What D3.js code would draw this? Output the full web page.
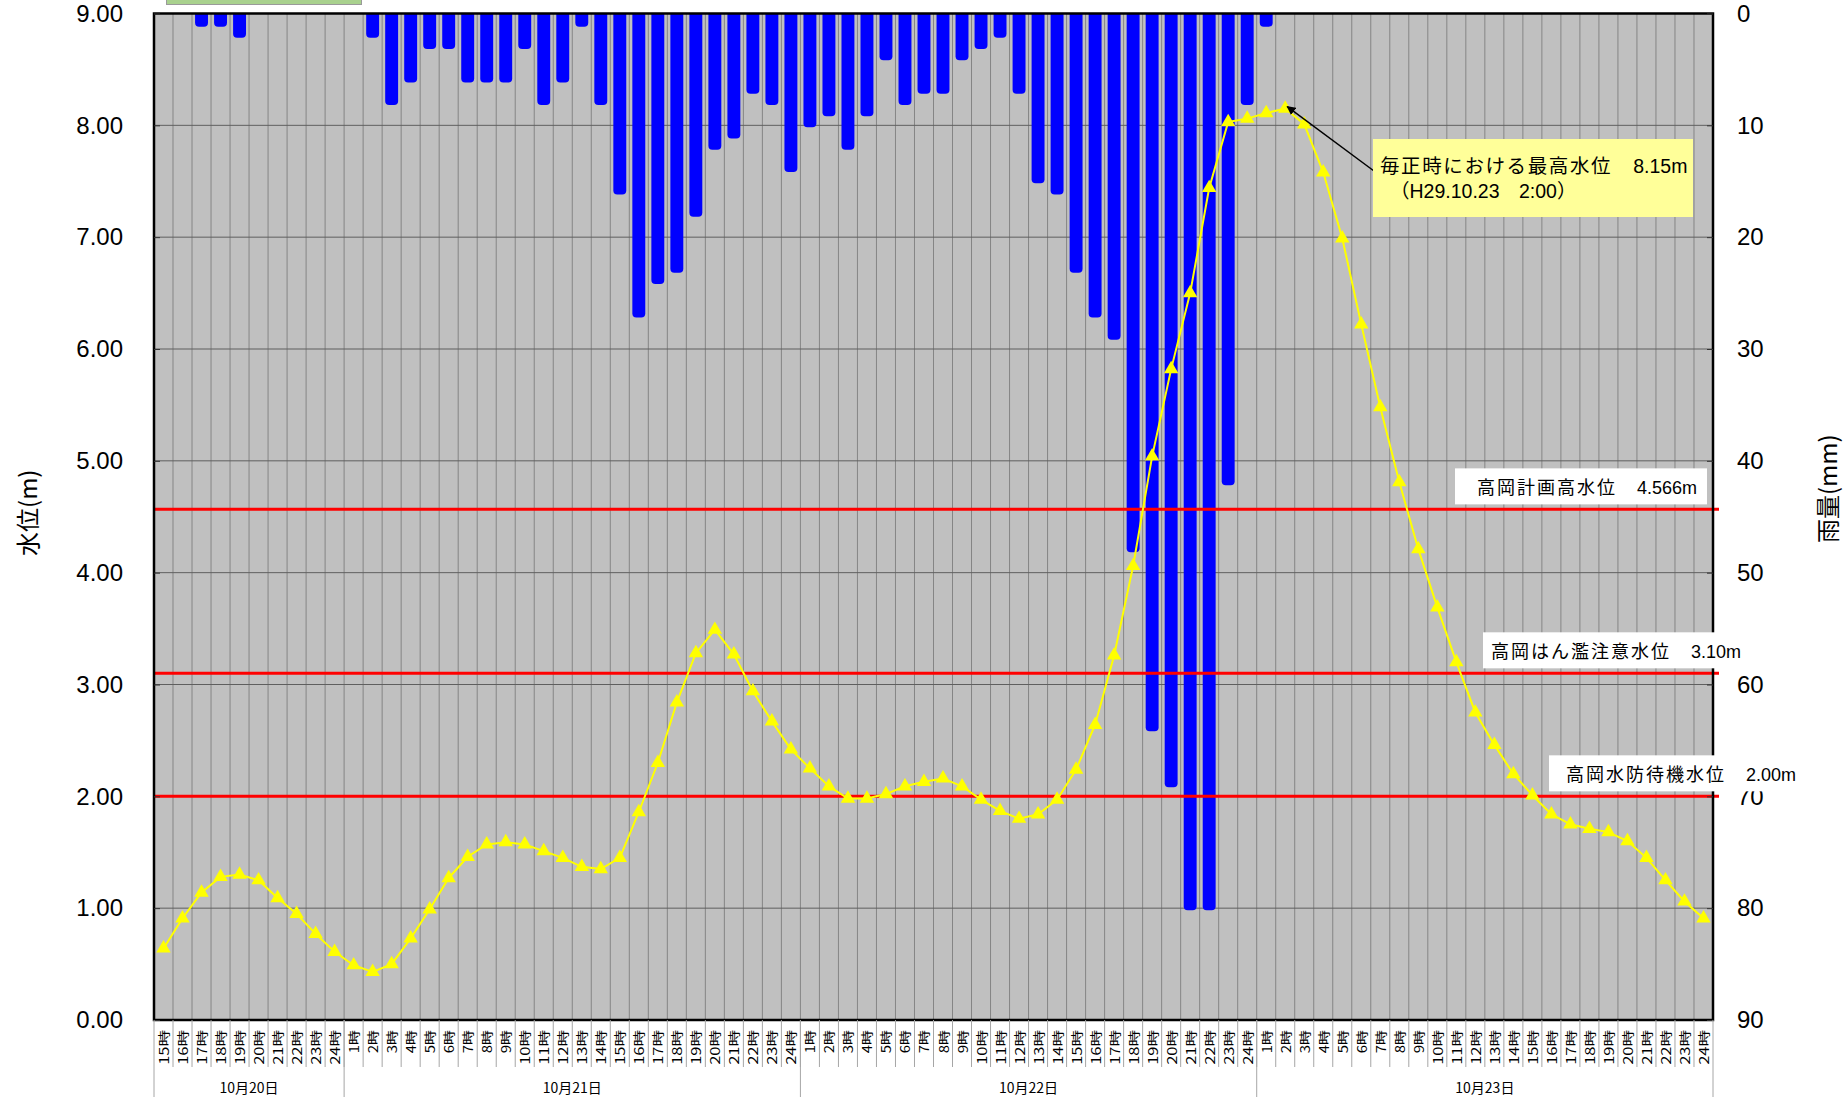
<!DOCTYPE html>
<html>
<head>
<meta charset="utf-8">
<script src="https://cdn.jsdelivr.net/npm/d3@7/dist/d3.min.js"></script>
<style>
  body { margin: 0; background: #fff; }
  svg { display: block; }
</style>
</head>
<body>
<svg id="chart"></svg>
<script>
// 日付と各日の最初の時刻
const days = ["10月20日", "10月21日", "10月22日", "10月23日"];
const dayFirstHour = [15, 1, 1, 1];
const lastHour = 24;

// 時間雨量 (mm)
const rain = [
  0, 0, 1, 1, 2, 0, 0, 0, 0, 0,
  0, 2, 8, 6, 3, 3, 6, 6, 6, 3, 8, 6, 1, 8, 16, 27, 24, 23, 18, 12, 11, 7, 8, 14,
  10, 9, 12, 9, 4, 8, 7, 7, 4, 3, 2, 7, 15, 16, 23, 27, 29, 48, 64, 69, 80, 80, 42, 8,
  1, 0, 0, 0, 0, 0, 0, 0, 0, 0, 0, 0, 0, 0, 0, 0, 0, 0, 0, 0, 0, 0, 0, 0
];

// 毎正時水位 (m)
const level = [
  0.64, 0.91, 1.14, 1.28, 1.30, 1.25, 1.09, 0.95, 0.77, 0.61,
  0.49, 0.43, 0.50, 0.73, 0.99, 1.27, 1.46, 1.57, 1.59, 1.57, 1.51, 1.45, 1.37, 1.35,
  1.45, 1.86, 2.30, 2.84, 3.28, 3.49, 3.27, 2.94, 2.67, 2.42,
  2.25, 2.09, 1.98, 1.98, 2.02, 2.09, 2.13, 2.16, 2.09, 1.97, 1.87, 1.80,
  1.84, 1.97, 2.24, 2.64, 3.26, 4.06, 5.04, 5.82, 6.50, 7.44, 8.03, 8.06,
  8.11, 8.15, 8.01, 7.58, 6.99, 6.22, 5.48, 4.81, 4.21, 3.69, 3.20, 2.75,
  2.46, 2.20, 2.01, 1.84, 1.75, 1.71, 1.68, 1.60, 1.45, 1.25, 1.06, 0.91
];

const levelTicks = [0, 1, 2, 3, 4, 5, 6, 7, 8, 9];
const rainTicks = [0, 10, 20, 30, 40, 50, 60, 70, 80, 90];

// 基準水位
const refNames = ["高岡計画高水位", "高岡はん濫注意水位", "高岡水防待機水位"];
const refValues = [4.566, 3.10, 2.00];
const refTexts = ["4.566m", "3.10m", "2.00m"];

// 最高水位の注記
const peakIndex = 59;
const peakLine1 = ["毎正時における最高水位", "8.15m"];
const peakLine2 = "（H29.10.23　2:00）";

const cats = [];
days.forEach((d, di) => {
  for (let h = dayFirstHour[di]; h <= lastHour; h++) {
    cats.push({ key: d + h, day: d, dayIndex: di, label: h + "時" });
  }
});

const svgWidth = 1843, svgHeight = 1097;
const margin = { top: 13.5, right: 130, bottom: 77, left: 154 };
const pL = margin.left, pR = svgWidth - margin.right;
const pT = margin.top, pB = svgHeight - margin.bottom;

const svg = d3.select("#chart")
  .attr("width", svgWidth)
  .attr("height", svgHeight);

const x = d3.scaleBand()
  .domain(cats.map(d => d.key))
  .range([pL, pR])
  .padding(0);

const yL = d3.scaleLinear().domain([0, 9]).range([pB, pT]);
const yR = d3.scaleLinear().domain([0, 90]).range([pT, pB]);

const cx = i => x(cats[i].key) + x.bandwidth() / 2;

const jpFont = "'Noto Sans CJK JP', sans-serif";
const numFont = "'Liberation Sans', 'Noto Sans CJK JP', sans-serif";

// 凡例の残り (上端で切れている)
svg.append("rect")
  .attr("x", 166.5).attr("y", -10)
  .attr("width", 195).attr("height", 14.5)
  .attr("fill", "#a9d18e")
  .attr("stroke", "#9a9a9a");

// 背景
svg.append("rect")
  .attr("x", pL).attr("y", pT)
  .attr("width", pR - pL).attr("height", pB - pT)
  .attr("fill", "#c0c0c0");

// 縦グリッド
svg.append("g")
  .selectAll("line")
  .data(cats.slice(1))
  .join("line")
  .attr("x1", d => x(d.key)).attr("x2", d => x(d.key))
  .attr("y1", pT).attr("y2", pB)
  .attr("stroke", "#858585")
  .attr("stroke-width", 1);

// 横グリッド
svg.append("g")
  .selectAll("line")
  .data(levelTicks.slice(1, -1))
  .join("line")
  .attr("x1", pL).attr("x2", pR)
  .attr("y1", d => yL(d)).attr("y2", d => yL(d))
  .attr("stroke", "#5f5f5f")
  .attr("stroke-width", 1);

// 雨量の棒 (下端を丸める)
const bw = x.bandwidth() * 0.68;
const r = 4;
svg.append("g")
  .selectAll("path")
  .data(rain.map((v, i) => ({ v, i })).filter(d => d.v > 0))
  .join("path")
  .attr("fill", "#0000ff")
  .attr("d", d => {
    const x0 = cx(d.i) - bw / 2;
    const b = yR(d.v) + 2;
    return `M${x0},${pT}V${b - r}A${r},${r} 0 0 0 ${x0 + r},${b}H${x0 + bw - r}` +
           `A${r},${r} 0 0 0 ${x0 + bw},${b - r}V${pT}Z`;
  });

// 基準水位線
svg.append("g")
  .selectAll("line")
  .data(refValues)
  .join("line")
  .attr("x1", pL).attr("x2", pR + 6)
  .attr("y1", d => yL(d)).attr("y2", d => yL(d))
  .attr("stroke", "#ff0000")
  .attr("stroke-width", 3);

// 水位の折れ線
const line = d3.line()
  .x((d, i) => cx(i))
  .y(d => yL(d));

svg.append("path")
  .datum(level)
  .attr("fill", "none")
  .attr("stroke", "#ffff00")
  .attr("stroke-width", 2)
  .attr("d", line);

svg.append("g")
  .selectAll("path")
  .data(level)
  .join("path")
  .attr("transform", (d, i) => `translate(${cx(i)},${yL(d)})`)
  .attr("d", d3.symbol(d3.symbolTriangle, 90))
  .attr("fill", "#ffff00");

// 枠
svg.append("rect")
  .attr("x", pL).attr("y", pT)
  .attr("width", pR - pL).attr("height", pB - pT)
  .attr("fill", "none")
  .attr("stroke", "#000")
  .attr("stroke-width", 2.5);

// 左軸 水位
const axL = svg.append("g")
  .attr("transform", `translate(${pL},0)`)
  .call(d3.axisLeft(yL).tickValues(levelTicks).tickFormat(d3.format(".2f"))
    .tickSizeInner(-6).tickSizeOuter(0).tickPadding(31));
axL.select(".domain").remove();
axL.selectAll("line").attr("stroke", "#333");
axL.selectAll("text").attr("font-family", numFont).attr("font-size", 24).attr("fill", "#000");

// 右軸 雨量
const axR = svg.append("g")
  .attr("transform", `translate(${pR},0)`)
  .call(d3.axisRight(yR).tickValues(rainTicks)
    .tickSizeInner(-6).tickSizeOuter(0).tickPadding(24));
axR.select(".domain").remove();
axR.selectAll("line").attr("stroke", "#333");
axR.selectAll("text").attr("font-family", numFont).attr("font-size", 24).attr("fill", "#000");

// 軸タイトル
svg.append("text")
  .attr("transform", `translate(26,${(pT + pB) / 2 - 4}) rotate(-90)`)
  .attr("text-anchor", "middle")
  .attr("dominant-baseline", "central")
  .attr("font-family", jpFont)
  .attr("font-size", 24)
  .text("水位(m)");

svg.append("text")
  .attr("transform", `translate(1826,${(pT + pB) / 2 - 28}) rotate(-90)`)
  .attr("text-anchor", "middle")
  .attr("dominant-baseline", "central")
  .attr("font-family", jpFont)
  .attr("font-size", 24)
  .text("雨量(mm)");

// 時刻ラベル
const xg = svg.append("g");
xg.selectAll("line.sep")
  .data(cats.slice(1))
  .join("line")
  .attr("class", "sep")
  .attr("x1", d => x(d.key)).attr("x2", d => x(d.key))
  .attr("y1", pB).attr("y2", pB + 47)
  .attr("stroke", "#a6a6a6");

xg.selectAll("text.hr")
  .data(cats)
  .join("text")
  .attr("class", "hr")
  .attr("transform", d => `translate(${x(d.key) + x.bandwidth() / 2},${pB + 10}) rotate(-90)`)
  .attr("text-anchor", "end")
  .attr("dominant-baseline", "central")
  .attr("font-family", jpFont)
  .attr("font-size", 12.5)
  .attr("textLength", d => d.label.length * 11.6)
  .attr("lengthAdjust", "spacingAndGlyphs")
  .text(d => d.label);

// 日付ラベル
const dayRange = days.map((d, di) => {
  const c = cats.filter(e => e.dayIndex === di);
  return { day: d, x0: x(c[0].key), x1: x(c[c.length - 1].key) + x.bandwidth() };
});

xg.selectAll("line.day")
  .data([dayRange[0].x0].concat(dayRange.map(d => d.x1)))
  .join("line")
  .attr("class", "day")
  .attr("x1", d => d).attr("x2", d => d)
  .attr("y1", pB).attr("y2", svgHeight)
  .attr("stroke", "#a6a6a6");

xg.selectAll("text.day")
  .data(dayRange)
  .join("text")
  .attr("class", "day")
  .attr("x", d => (d.x0 + d.x1) / 2)
  .attr("y", pB + 67)
  .attr("text-anchor", "middle")
  .attr("dominant-baseline", "central")
  .attr("font-family", jpFont)
  .attr("font-size", 14)
  .text(d => d.day);

// 基準水位ラベル
const refBoxX = [1455, 1483, 1549];
const refBoxW = [252, 255, 249];
const refTextX = [1477, 1491, 1566];
refValues.forEach((v, i) => {
  const yb = yL(v) - 5;
  svg.append("rect")
    .attr("x", refBoxX[i]).attr("y", yb - 36)
    .attr("width", refBoxW[i]).attr("height", 36)
    .attr("fill", "#fff");
  const t = svg.append("text")
    .attr("x", refTextX[i]).attr("y", yb - 10)
    .attr("font-size", 18)
    .attr("fill", "#000");
  t.append("tspan")
    .attr("font-family", jpFont)
    .attr("letter-spacing", 2)
    .text(refNames[i] + "　");
  t.append("tspan")
    .attr("font-family", numFont)
    .text(refTexts[i]);
});

// 最高水位の注記
svg.append("defs").append("marker")
  .attr("id", "arrow")
  .attr("viewBox", "0 0 10 10")
  .attr("refX", 9).attr("refY", 5)
  .attr("markerWidth", 9).attr("markerHeight", 9)
  .attr("markerUnits", "userSpaceOnUse")
  .attr("orient", "auto")
  .append("path")
  .attr("d", "M0,0L10,5L0,10Z")
  .attr("fill", "#000");

svg.append("line")
  .attr("x1", 1374).attr("y1", 171)
  .attr("x2", cx(peakIndex) + 2).attr("y2", yL(level[peakIndex]) - 2)
  .attr("stroke", "#000")
  .attr("stroke-width", 1.5)
  .attr("marker-end", "url(#arrow)");

svg.append("rect")
  .attr("x", 1373).attr("y", 139)
  .attr("width", 320).attr("height", 78)
  .attr("fill", "#ffff99");

const p1 = svg.append("text")
  .attr("x", 1380).attr("y", 173)
  .attr("font-size", 19.5)
  .attr("fill", "#000");
p1.append("tspan").attr("font-family", jpFont).attr("letter-spacing", 1.6)
  .text(peakLine1[0] + "　");
p1.append("tspan").attr("font-family", numFont).text(peakLine1[1]);

svg.append("text")
  .attr("x", 1390).attr("y", 198)
  .attr("font-family", numFont)
  .attr("font-size", 19.5)
  .attr("fill", "#000")
  .text(peakLine2);
</script>
</body>
</html>
